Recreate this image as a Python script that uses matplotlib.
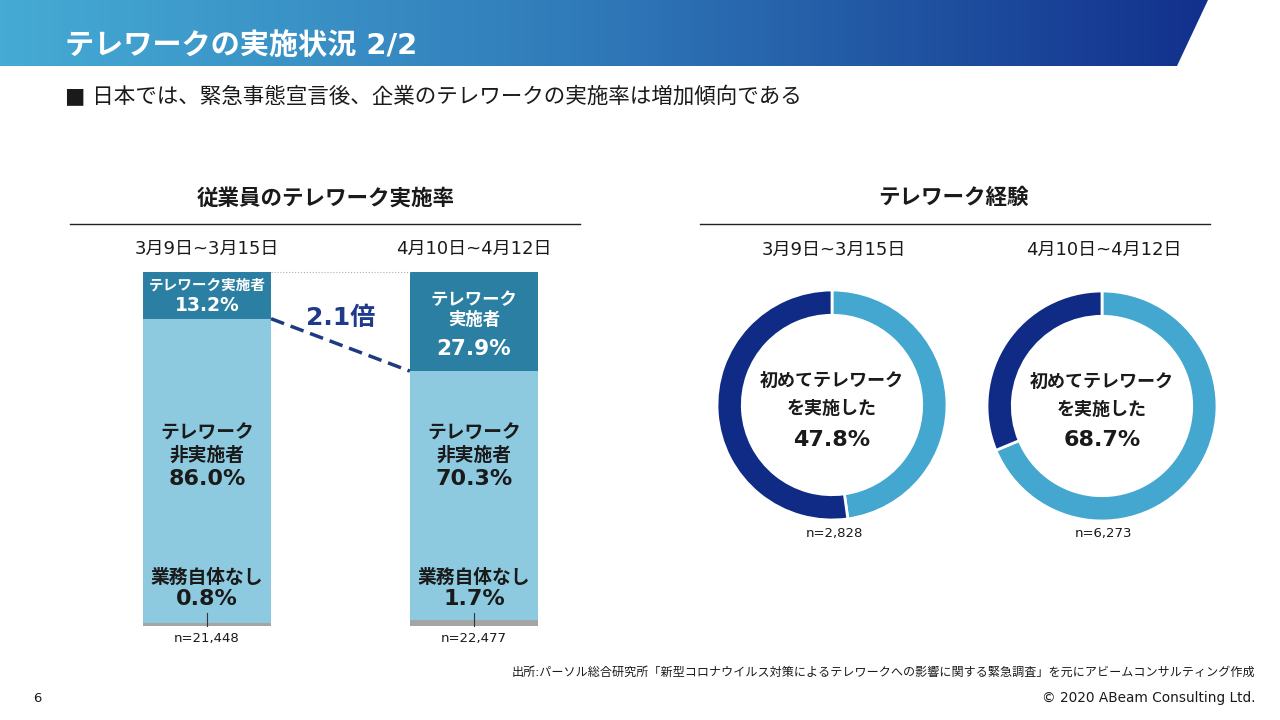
import numpy as np
import matplotlib.pyplot as plt
from matplotlib.colors import LinearSegmentedColormap
from matplotlib.patches import Polygon

# Verdana-like Latin first, CJK fallback
plt.rcParams['font.family'] = ['DejaVu Sans', 'Noto Sans CJK JP']

# data
periods = ['3月9日~3月15日', '4月10日~4月12日']
telework = [13.2, 27.9]        # テレワーク実施者
no_telework = [86.0, 70.3]     # テレワーク非実施者
no_work = [0.8, 1.7]           # 業務自体なし
bar_n = ['n=21,448', 'n=22,477']

first_time = [47.8, 68.7]      # 初めてテレワークを実施した
donut_n = ['n=2,828', 'n=6,273']

c_dark = '#2b7fa2'
c_light = '#8dcae0'
c_gray = '#a5a5a5'
c_donut_light = '#44a7d0'
c_donut_navy = '#0f2b86'
c_text = '#1a1a1a'

fig = plt.figure(figsize=(12.8, 7.2), dpi=100)

# background layer in pixel coords
bg = fig.add_axes([0, 0, 1, 1])
bg.set_xlim(0, 1280)
bg.set_ylim(720, 0)
bg.axis('off')

# header banner with gradient
cmap = LinearSegmentedColormap.from_list('hdr', ['#45abd4', '#2f78b8', '#12308c'])
grad = np.linspace(0, 1, 256).reshape(1, -1)
img = bg.imshow(grad, cmap=cmap, extent=[0, 1210, 66, 0], aspect='auto', zorder=1)
banner = Polygon([(0, 0), (1208, 0), (1177, 66), (0, 66)], closed=True,
                 transform=bg.transData, facecolor='none', edgecolor='none')
bg.add_patch(banner)
img.set_clip_path(banner)
bg.set_xlim(0, 1280)
bg.set_ylim(720, 0)

bg.text(65, 46, 'テレワークの実施状況 2/2', color='white', fontsize=21,
        fontweight='bold', va='center', ha='left', zorder=3)
bg.text(65, 97, '■ 日本では、緊急事態宣言後、企業のテレワークの実施率は増加傾向である',
        color=c_text, fontsize=15.5, va='center', ha='left')

# section titles and rules
bg.text(326, 198, '従業員のテレワーク実施率', fontsize=15.5, fontweight='bold',
        ha='center', va='center', color=c_text)
bg.plot([70, 580], [224, 224], color='#222222', lw=1)
bg.text(953, 198, 'テレワーク経験', fontsize=15.5, fontweight='bold',
        ha='center', va='center', color=c_text)
bg.plot([700, 1210], [224, 224], color='#222222', lw=1)

# footer
bg.text(1255, 672, '出所:パーソル総合研究所「新型コロナウイルス対策によるテレワークへの影響に関する緊急調査」を元にアビームコンサルティング作成',
        fontsize=8.7, ha='right', va='center', color=c_text)
bg.text(1255, 698, '© 2020 ABeam Consulting Ltd.', fontsize=9.8, ha='right',
        va='center', color=c_text)
bg.text(33, 698, '6', fontsize=9.5, ha='left', va='center', color=c_text)

# stacked bars
ax = fig.add_axes([70 / 1280, 1 - 626 / 720, 510 / 1280, 354 / 720])
x = np.arange(len(periods))
w = 0.48
bottom_light = np.array(no_work)
bottom_dark = bottom_light + np.array(no_telework)
ax.bar(x, no_work, w, color=c_gray)
ax.bar(x, no_telework, w, bottom=bottom_light, color=c_light)
ax.bar(x, telework, w, bottom=bottom_dark, color=c_dark)
ax.set_xlim(-0.513, 1.397)
ax.set_ylim(0, 100)
ax.axis('off')

px = 3.54  # pixels per percentage point
for i in range(len(periods)):
    ax.text(x[i], 106.5, periods[i], ha='center', va='center', fontsize=13,
            color=c_text, clip_on=False)

    # label inside the top segment; a short segment gets a two-line label
    seg = telework[i] * px
    mid = bottom_dark[i] + telework[i] / 2
    if seg < 70:
        ax.text(x[i], mid + 10 / px, 'テレワーク実施者', ha='center', va='center',
                fontsize=10.5, fontweight='bold', color='white')
        ax.text(x[i], mid - 10 / px, f'{telework[i]:.1f}%', ha='center',
                va='center', fontsize=13.5, fontweight='bold', color='white')
    else:
        ax.text(x[i], mid + 12 / px, 'テレワーク\n実施者', ha='center',
                va='center', fontsize=12.5, fontweight='bold', color='white',
                linespacing=1.15)
        ax.text(x[i], mid - 27 / px, f'{telework[i]:.1f}%', ha='center',
                va='center', fontsize=15.5, fontweight='bold', color='white')

    ax.text(x[i], 51.4, 'テレワーク\n非実施者', ha='center', va='center',
            fontsize=13.5, fontweight='bold', color=c_text, linespacing=1.2)
    ax.text(x[i], 41.6, f'{no_telework[i]:.1f}%', ha='center', va='center',
            fontsize=16, fontweight='bold', color=c_text)
    ax.text(x[i], 13.8, '業務自体なし', ha='center', va='center',
            fontsize=13.5, fontweight='bold', color=c_text)
    ax.text(x[i], 7.7, f'{no_work[i]:.1f}%', ha='center', va='center',
            fontsize=16, fontweight='bold', color=c_text)

    ax.plot([x[i], x[i]], [0, 3.8], color='#333333', lw=0.8, clip_on=False)
    ax.text(x[i], -3.6, bar_n[i], ha='center', va='center', fontsize=9.5,
            color=c_text, clip_on=False)

# connector lines between bars
ax.plot([x[0] + w / 2, x[1] - w / 2], [100, 100], color='#b0b0b0', lw=0.8,
        ls=':', clip_on=False)
ax.plot([x[0] + w / 2, x[1] - w / 2], [bottom_dark[0], bottom_dark[1]],
        color='#1f3a7e', lw=2.5, dashes=(4, 2), clip_on=False)
ratio = telework[1] / telework[0]
ax.text(0.5, 87, f'{ratio:.1f}倍', ha='center', va='center', fontsize=18,
        fontweight='bold', color='#1f3a8a')

# donuts
centers = [(832, 405), (1102, 406)]
r = 115
for i in range(len(first_time)):
    cx, cy = centers[i]
    s = r * 1.03
    dax = fig.add_axes([(cx - s) / 1280, 1 - (cy + s) / 720, 2 * s / 1280, 2 * s / 720])
    dax.pie([first_time[i], 100 - first_time[i]], colors=[c_donut_light, c_donut_navy],
            startangle=90, counterclock=False,
            wedgeprops=dict(width=0.22, edgecolor='white', linewidth=2))
    dax.set_xlim(-1.03, 1.03)
    dax.set_ylim(-1.03, 1.03)
    dax.set_aspect('equal')
    dax.axis('off')
    dax.text(0, 0.085, '初めてテレワーク\nを実施した', ha='center', va='center',
             fontsize=13, fontweight='bold', color=c_text, linespacing=1.75)
    dax.text(0, -0.30, f'{first_time[i]:.1f}%', ha='center', va='center',
             fontsize=16, fontweight='bold', color=c_text)
    bg.text(cx + 2, 250, periods[i], ha='center', va='center', fontsize=13, color=c_text)
    bg.text(cx + 2, 534, donut_n[i], ha='center', va='center', fontsize=9.5,
            color=c_text)

fig.savefig('out.png', dpi=100)
